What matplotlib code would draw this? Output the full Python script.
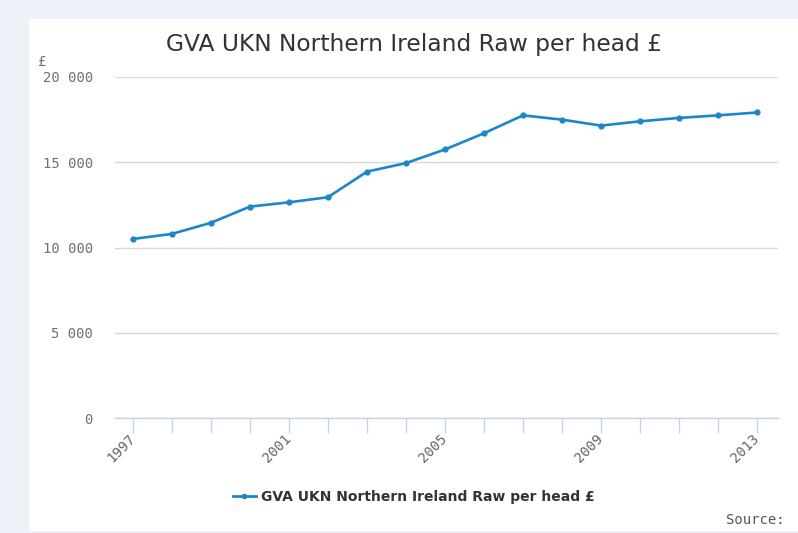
import matplotlib.pyplot as plt
from matplotlib.patches import Rectangle
from matplotlib.lines import Line2D

years = list(range(1997, 2014))
gva_per_head = [10500, 10800, 11450, 12400, 12650, 12950, 14450, 14950, 15750,
                16700, 17750, 17500, 17150, 17400, 17600, 17750, 17920]
y_ticks = [0, 5000, 10000, 15000, 20000]
y_tick_labels = ["0", "5 000", "10 000", "15 000", "20 000"]
x_label_years = [1997, 2001, 2005, 2009, 2013]

title = "GVA UKN Northern Ireland Raw per head £"
line_color = "#1b87c9"
mono = "DejaVu Sans Mono"

W, H = 798, 533
fig = plt.figure(figsize=(W / 100, H / 100), dpi=100)
fig.patch.set_facecolor("#edf2f9")
# white panel behind everything
fig.patches.append(Rectangle((29 / W, 2 / H), 1 - 29 / W, 1 - 19 / H - 2 / H,
                             transform=fig.transFigure, facecolor="white",
                             edgecolor="none", zorder=-10))

ax = fig.add_axes([115 / W, 1 - 418 / H, (778 - 115) / W, (418 - 77) / H])
ax.patch.set_alpha(0)
ax.plot(years, gva_per_head, color=line_color, lw=1.9, marker="o", ms=3.5,
        clip_on=False, zorder=3)

ax.set_xlim(1997 - 18 / 39, 2013 + 21 / 39)
ax.set_ylim(0, 20000)

ax.set_yticks(y_ticks)
ax.set_yticklabels(y_tick_labels, family=mono, fontsize=10, color="#707070",
                   va="center_baseline")
ax.tick_params(axis="y", length=0, pad=16)
ax.grid(axis="y", color="#d8d8d8", lw=1)
ax.set_axisbelow(True)

ax.set_xticks(years)
ax.set_xticklabels([str(y) if y in x_label_years else "" for y in years],
                   family=mono, fontsize=10, color="#666666",
                   rotation=45, ha="right", va="center", rotation_mode="anchor")
ax.tick_params(axis="x", length=11, width=1, color="#c6d6e6", pad=2,
               direction="out")

for side in ["left", "right", "top"]:
    ax.spines[side].set_visible(False)
ax.spines["bottom"].set_color("#c6d6e6")
ax.spines["bottom"].set_linewidth(1)

fig.text(414 / W, 1 - 44 / H, title, ha="center", va="center",
         fontsize=16.8, color="#333333")
fig.text(38 / W, 1 - 62 / H, "£", ha="left", va="center",
         family=mono, fontsize=10, color="#707070")

handle = Line2D([], [], color=line_color, lw=2, marker="o", ms=3)
fig.legend([handle], [title], loc="center", bbox_to_anchor=(414 / W, 1 - 497 / H),
           frameon=False, prop={"weight": "bold", "size": 10},
           handlelength=1.6, handletextpad=0.4, labelcolor="#333333")

fig.text(785 / W, 1 - 520 / H, "Source:", ha="right", va="center",
         family=mono, fontsize=10, color="#555555")

fig.savefig("out.png", dpi=100, facecolor=fig.get_facecolor())
